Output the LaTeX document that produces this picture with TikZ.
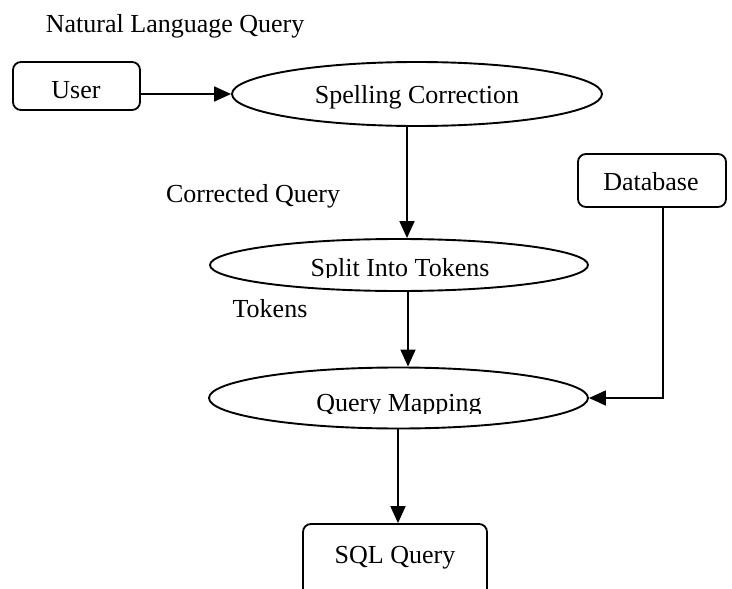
\documentclass[tikz,border=0pt]{standalone}
\usepackage{fontspec}
\setmainfont{Liberation Serif}
\usetikzlibrary{shapes.geometric,arrows.meta}
\begin{document}
\begin{tikzpicture}[x=1pt,y=-1pt,
 line width=1.8pt,
 lbl/.style={inner sep=0pt, anchor=base, font=\fontsize{26}{30}\selectfont},
 ell/.style={draw, ellipse, inner sep=0pt, line width=1.9pt},
 rbox/.style={draw, rectangle, rounded corners=8pt, inner sep=0pt},
 arr/.style={-{Triangle[length=17pt,width=15pt]}}]
\useasboundingbox (0,0) rectangle (732,589);

\node[lbl, anchor=base west] (nlq) at (45,32) {Natural Language Query};

\node[rbox, minimum width=127pt, minimum height=48pt] (User) at (76.5,86) {};
\node[lbl] (usert) at (76,98) {User};

\node[ell, minimum width=370pt, minimum height=64pt] (Spell) at (417,94) {};
\node[lbl] (spellt) at (417,103) {Spelling Correction};

\node[lbl] (cq) at (253,202) {Corrected Query};

\node[rbox, minimum width=148pt, minimum height=53pt] (DB) at (652,180.5) {};
\node[lbl] (dbt) at (651,190) {Database};

\node[ell, minimum width=378pt, minimum height=52pt] (Split) at (399,265) {};
\begin{scope}
 \clip (0,0) rectangle (732,277.5);
 \node[lbl] (splitt) at (400,276) {Split Into Tokens};
\end{scope}

\node[lbl] (tok) at (270,317) {Tokens};

\node[ell, minimum width=379pt, minimum height=61pt] (Map) at (398.5,398) {};
\begin{scope}
 \clip (0,0) rectangle (732,413);
 \node[lbl] (mapt) at (399,411.5) {Query Mapping};
\end{scope}

\node[rbox, minimum width=184pt, minimum height=90pt] (SQL) at (395,569) {};
\node[lbl] (sqlt) at (395,563) {SQL Query};

\coordinate (x1) at (407,0);
\coordinate (x2) at (408,0);
\coordinate (x3) at (663,0);
\coordinate (x4) at (398,0);
\draw[arr] (User.east |- Spell.west) -- (Spell.west);
\draw[arr] (Spell.south -| x1) -- (Split.north -| x1);
\draw[arr] (Split.south -| x2) -- (Map.north -| x2);
\draw[arr] (Map.south -| x4) -- (SQL.north -| x4);
\draw[arr] (DB.south -| x3) |- (Map.east);
\end{tikzpicture}
\end{document}
